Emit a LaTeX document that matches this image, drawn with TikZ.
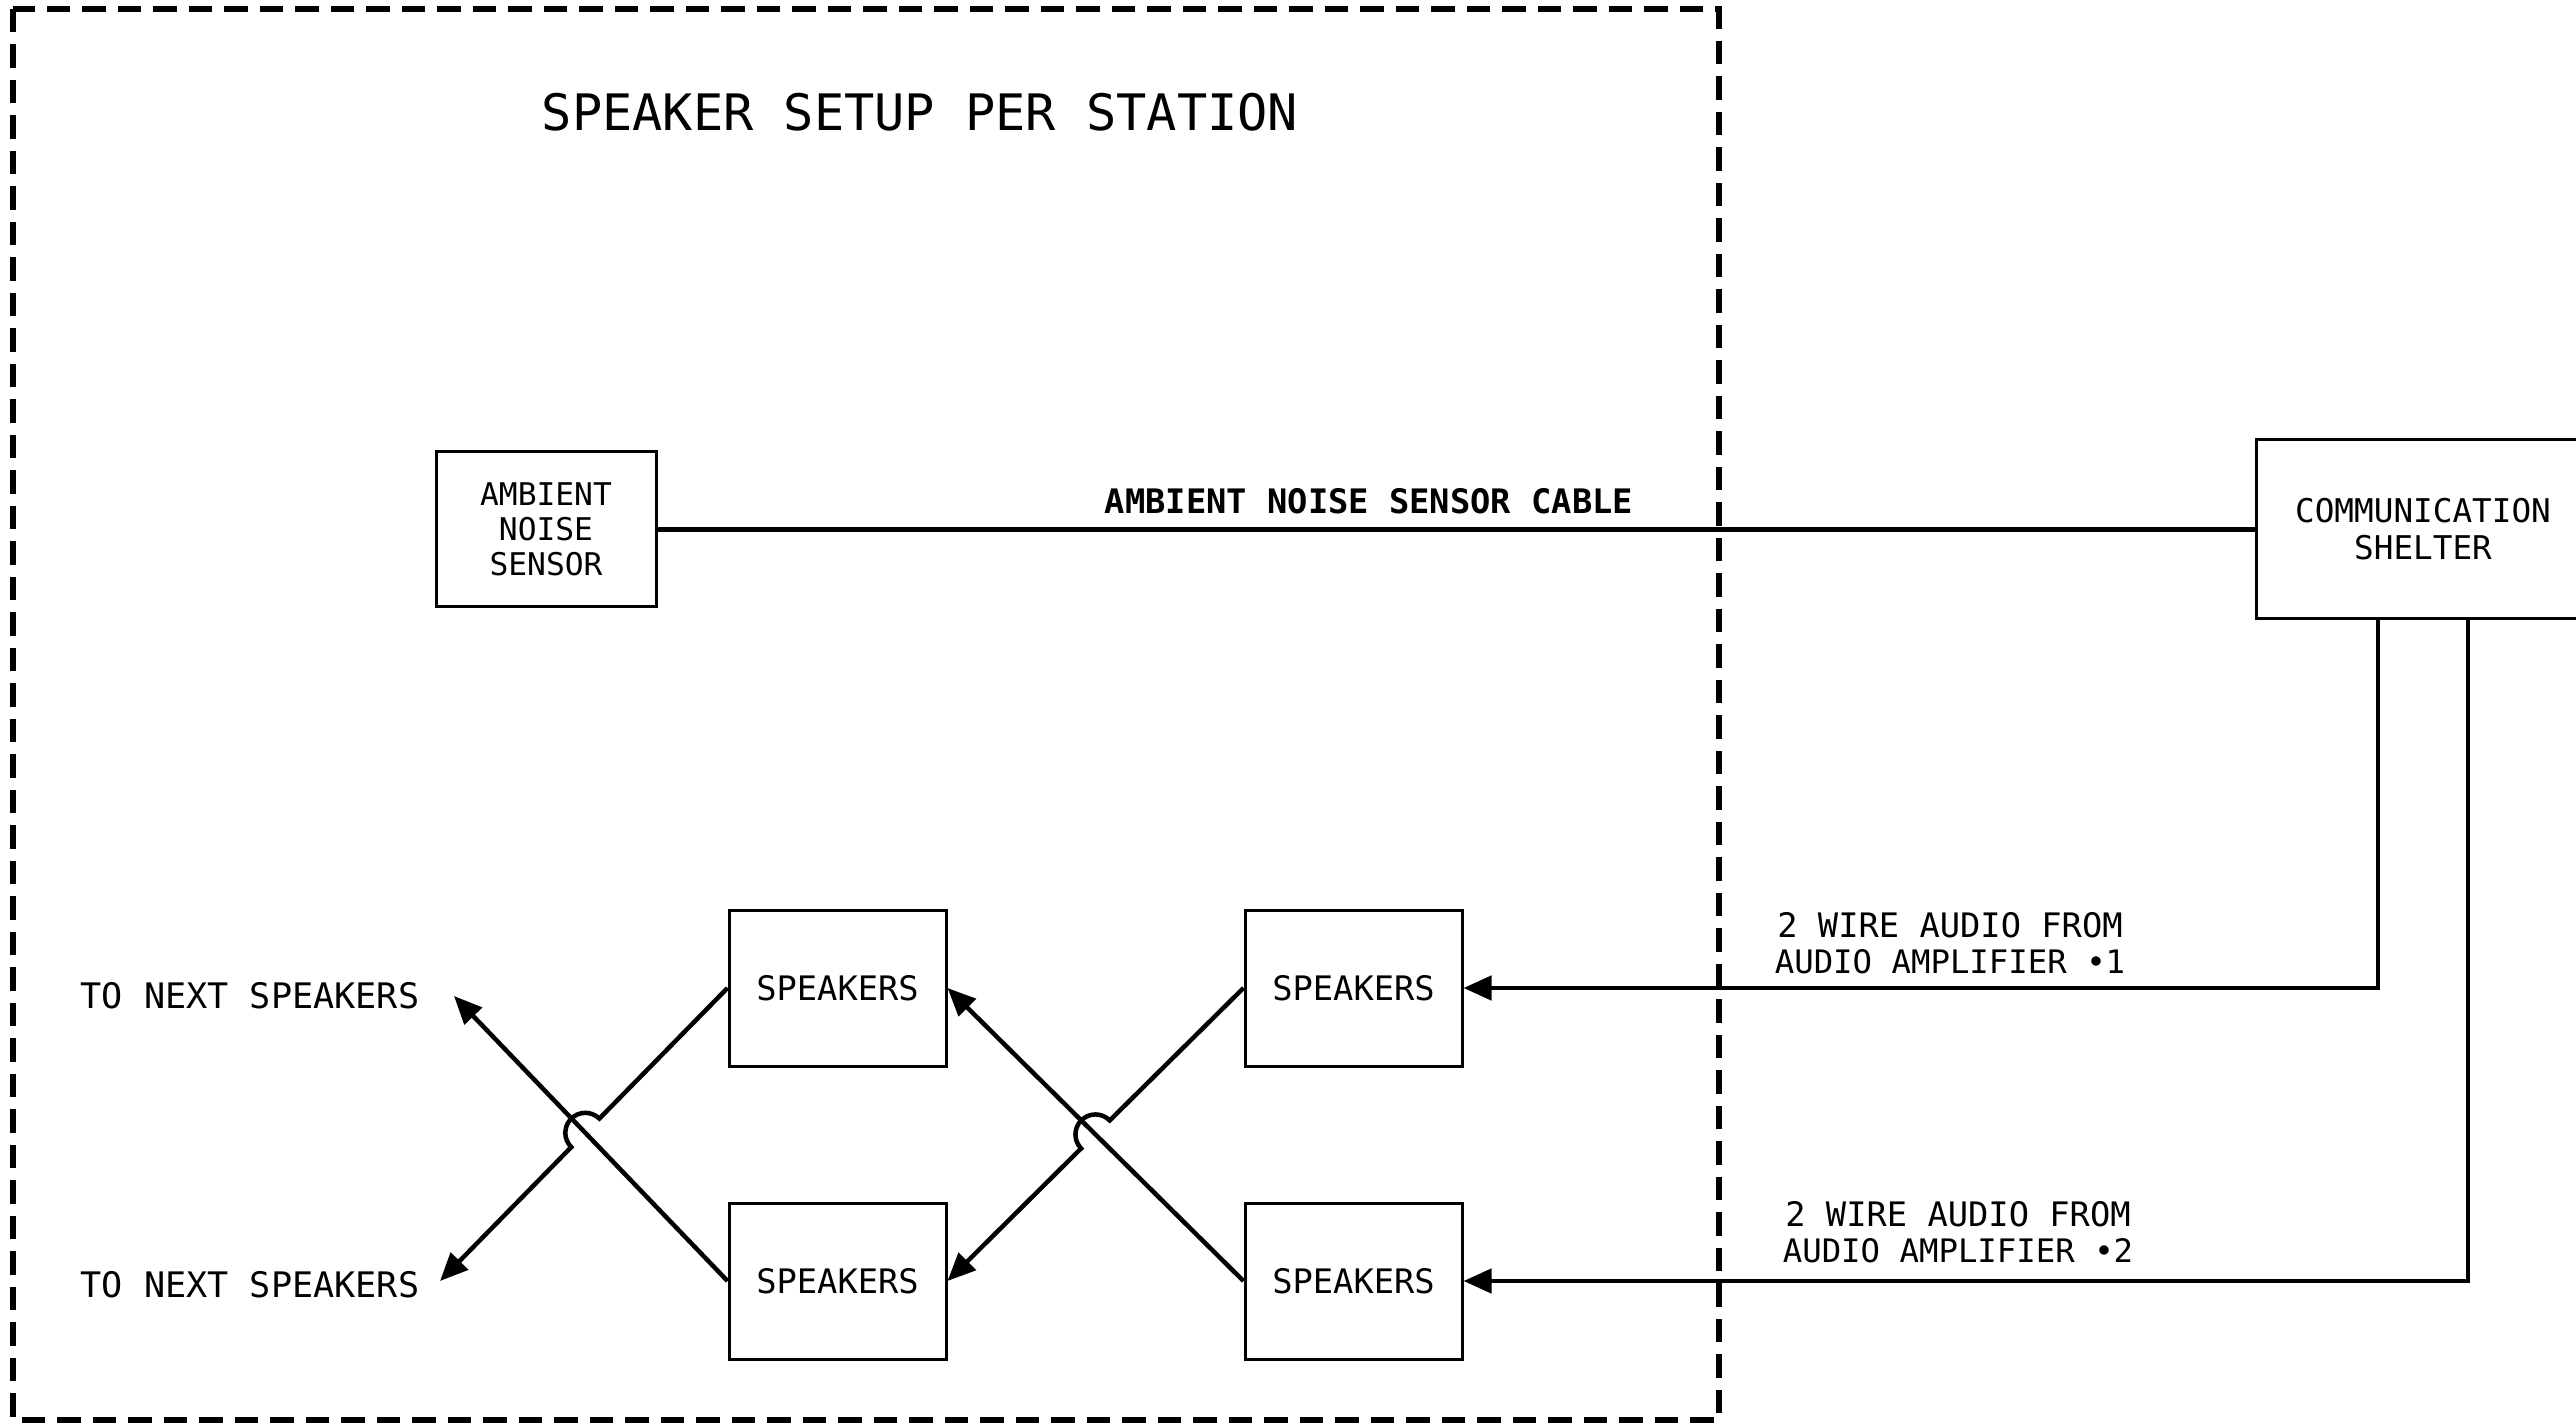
\documentclass[tikz,border=0pt]{standalone}
\usepackage{fontspec}
\setmainfont{DejaVu Sans Mono}
\usetikzlibrary{arrows.meta,calc,intersections}
\begin{document}
\begin{tikzpicture}[x=0.1mm,y=-0.1mm,
  box/.style={draw,line width=0.3mm,minimum width=21.7mm,minimum height=15.6mm,inner sep=0pt,font=\fontsize{9.6}{10.3}\selectfont,align=center},
  wire/.style={line width=0.45mm},
  arr/.style={wire,-{Triangle[length=2.8mm,width=2.4mm]}},
  lbl/.style={font=\fontsize{9.6}{10.3}\selectfont,align=center,inner sep=0pt},
  frame/.style={line width=0.55mm,dash pattern=on 2.35mm off 1.2mm}]
\useasboundingbox (0,0) rectangle (2576,1423);
\clip (0,0) rectangle (2576,1423);
\draw[frame] (13,9) rectangle (1719,1420);

\node[lbl,font=\fontsize{14.3}{16}\selectfont] (title) at (920,112) {SPEAKER SETUP PER STATION};

\node[box,minimum width=22mm,minimum height=15.5mm,font=\fontsize{8.9}{10}\selectfont] (amb) at (546,529.5) {AMBIENT\\NOISE\\SENSOR};
\node[box,minimum width=33.4mm,minimum height=17.9mm,font=\fontsize{9.3}{10.5}\selectfont] (shelter) at (2423,529.5) {COMMUNICATION\\SHELTER};

\node[box] (spTL) at (837.5,988) {SPEAKERS};
\node[box] (spTR) at (1353.5,988) {SPEAKERS};
\node[box] (spBL) at (837.5,1281) {SPEAKERS};
\node[box] (spBR) at (1353.5,1281) {SPEAKERS};

\draw[wire] (amb.east) -- (shelter.west);
\node[lbl,font=\fontsize{9.6}{10.3}\selectfont\bfseries] (cablelbl) at (1369,501) {AMBIENT NOISE SENSOR CABLE};

\coordinate (v1) at (2378,0);
\coordinate (v2) at (2468,0);
\draw[arr] (shelter.south -| v1) |- (spTR.east);
\draw[arr] (shelter.south -| v2) |- (spBR.east);
\node[lbl] (amp1) at (1950,943) {2 WIRE AUDIO FROM\\\fontsize{9.2}{10.3}\selectfont AUDIO AMPLIFIER •1};
\node[lbl] (amp2) at (1958,1232) {2 WIRE AUDIO FROM\\\fontsize{9.2}{10.3}\selectfont AUDIO AMPLIFIER •2};

% right crossing
\coordinate (xr) at ($(spTR.west)!0.5!(spBL.east)$);
\draw[arr] (spBR.west) -- (spTL.east);
\draw[arr] (spTR.west) -- ($(xr)!2mm!(spTR.west)$) arc[start angle=44.4,end angle=224.4,radius=2mm] -- (spBL.east);

% left crossing
\coordinate (nextU) at (454,996);
\coordinate (nextD) at (440,1281);
\path[name path=pa] (spTL.west) -- (nextD);
\path[name path=pb] (spBL.west) -- (nextU);
\path[name intersections={of=pa and pb,by=xl}];
\draw[arr] (spBL.west) -- (nextU);
\draw[arr] (spTL.west) -- ($(xl)!2mm!(spTL.west)$) arc[start angle=45.4,end angle=225.4,radius=2mm] -- (nextD);

\node[lbl,font=\fontsize{10}{11}\selectfont] (nextlblU) at (250,996) {TO NEXT SPEAKERS};
\node[lbl,font=\fontsize{10}{11}\selectfont] (nextlblD) at (250,1285) {TO NEXT SPEAKERS};
\end{tikzpicture}
\end{document}
